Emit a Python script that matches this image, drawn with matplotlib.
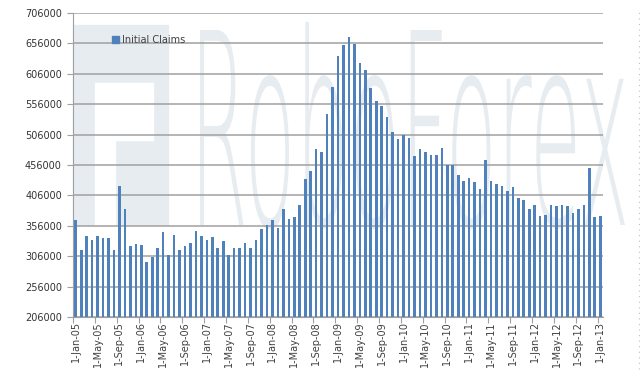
import matplotlib
matplotlib.use("Agg")
import matplotlib.pyplot as plt
import numpy as np
import pandas as pd
from matplotlib.patches import PathPatch, Patch, Rectangle
from matplotlib.textpath import TextPath
from matplotlib.font_manager import FontProperties
from matplotlib.transforms import Affine2D

# === Data: monthly initial claims, Jan 2005 - Jan 2013 ===
months = pd.date_range("2005-01-01", "2013-01-01", freq="MS")
claims = [
    365000, 316000, 340000, 333000, 339000, 336000, 336000, 317000, 422000, 383000, 323000, 326000,   # 2005
    324000, 296000, 305000, 320000, 346000, 308000, 341000, 316000, 322000, 327000, 347000, 340000,   # 2006
    333000, 337000, 319000, 331000, 308000, 319000, 320000, 327000, 320000, 333000, 350000, 357000,   # 2007
    365000, 352000, 384000, 367000, 370000, 390000, 433000, 446000, 483000, 478000, 540000, 584000,   # 2008
    636000, 653000, 666000, 655000, 624000, 613000, 583000, 561000, 553000, 535000, 510000, 499000,   # 2009
    505000, 500000, 471000, 483000, 477000, 472000, 473000, 484000, 456000, 456000, 440000, 430000,   # 2010
    435000, 428000, 416000, 464000, 429000, 424000, 422000, 414000, 420000, 402000, 398000, 384000,   # 2011
    390000, 372000, 373000, 391000, 389000, 391000, 388000, 377000, 384000, 391000, 451000, 371000,   # 2012
    372000,                                                                                           # 2013
]
labels = [f"1-{m.strftime('%b-%y')}" for m in months]
y_ticks = list(range(206000, 706001, 50000))

W, H = 640, 377
fig = plt.figure(figsize=(W / 100, H / 100), dpi=100)
ax = fig.add_axes([73 / W, 1 - 317 / H, 530 / W, 304 / H])
ax.set_facecolor("none")

# === Watermark (faint logo + text), behind grid and bars ===
wm = "#e7ecf1"
def px_rect(x0, y0, x1, y1, color):
    ax.add_patch(Rectangle((x0 / W, 1 - y1 / H), (x1 - x0) / W, (y1 - y0) / H,
                           transform=fig.transFigure, color=color, zorder=0.1, clip_on=False))
px_rect(73, 25, 168, 225, wm)
px_rect(95, 83, 153, 140, "white")
px_rect(95, 140, 115, 225, "white")

tp = TextPath((0, 0), "RoboForex", size=1, prop=FontProperties(family="DejaVu Sans", weight="light"))
ext = tp.get_extents()
cap = TextPath((0, 0), "R", size=1, prop=FontProperties(family="DejaVu Sans")).get_extents().height
x0, x1, top, base = 200, 625, 30, 225
sx = (x1 - x0) / W / ext.width
sy = (base - top) / H / cap
tr = Affine2D().translate(-ext.x0, 0).scale(sx, sy).translate(x0 / W, 1 - base / H) + fig.transFigure
ax.add_patch(PathPatch(tp, transform=tr, color=wm, lw=0, zorder=0.1, clip_on=False))

# === Bars ===
x = np.arange(len(claims))
ax.bar(x, claims, width=0.48, color="#4f81bd", zorder=2)

ax.set_xlim(-0.5, len(claims) - 0.5)
ax.set_ylim(y_ticks[0], y_ticks[-1])
ax.set_yticks(y_ticks)
ax.set_yticklabels([str(v) for v in y_ticks])

# ticks at category boundaries, labels centred on categories
ax.set_xticks(x[::4] - 0.5)
ax.set_xticklabels([])
ax.set_xticks(x[::4], minor=True)
ax.set_xticklabels(labels[::4], minor=True, rotation=90, fontsize=7, color="#404040")
ax.tick_params(axis="x", which="major", length=4, color="#a0a0a0")
ax.tick_params(axis="x", which="minor", length=0, pad=3)
ax.tick_params(axis="y", length=4, color="#a0a0a0", labelsize=7, labelcolor="#333333", pad=4)

ax.grid(axis="y", color="#a0a0a0", lw=1.1, zorder=0.5)
ax.set_axisbelow(True)
for s in ["top", "right"]:
    ax.spines[s].set_visible(False)
for s in ["left", "bottom"]:
    ax.spines[s].set_color("#a0a0a0")

ax.legend(handles=[Patch(color="#4f81bd", label="Initial Claims")], loc="upper left",
          bbox_to_anchor=((107 - 73) / 530, (317 - 30) / 304), frameon=False, fontsize=7,
          handlelength=0.7, handleheight=0.7, handletextpad=0.3, borderpad=0, labelcolor="#404040")

fig.lines.append(plt.Line2D([0.998, 0.998], [0.02, 0.98], transform=fig.transFigure,
                            color="#c0c0c0", lw=0.8, ls=(0, (1, 4))))

fig.savefig("out.png", dpi=100, facecolor="white")
